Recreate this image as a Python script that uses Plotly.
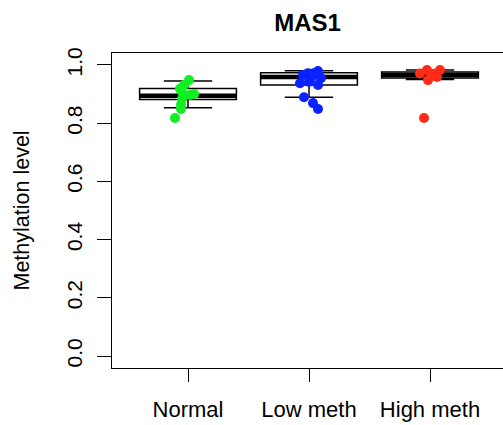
import plotly.graph_objects as go

categories = ["Normal", "Low meth", "High meth"]
positions = [1, 2, 3]
colors = ["#11EE22", "#0A22FF", "#FF2A18"]

q1 = [0.881, 0.931, 0.955]
median = [0.894, 0.959, 0.966]
q3 = [0.919, 0.973, 0.976]
lower_whisker = [0.853, 0.889, 0.950]
upper_whisker = [0.945, 0.980, 0.983]

normal_vals = [0.948, 0.931, 0.918, 0.900, 0.897, 0.900, 0.883, 0.863, 0.849, 0.818]
normal_jitter = [1, -4, -8, -5, 2, 6, -6, -7, -7, -13]
low_vals = [0.937, 0.966, 0.972, 0.955, 0.979, 0.955, 0.931, 0.972, 0.942, 0.889, 0.869, 0.849]
low_jitter = [-9, -6, -1, 2, 9, 12, 9, 5, 0, -5, 4, 9]
high_vals = [0.971, 0.983, 0.948, 0.971, 0.983, 0.959, 0.966, 0.818]
high_jitter = [-10, -3, -2, 5, 10, 7, 2, -6]

point_vals = [normal_vals, low_vals, high_vals]
point_jitter = [normal_jitter, low_jitter, high_jitter]

yticks = [0.0, 0.2, 0.4, 0.6, 0.8, 1.0]
title = "MAS1"
ytitle = "Methylation level"

FONT = "Liberation Sans, Arial, Helvetica, sans-serif"
W, H = 503, 425
L, R, T, B = 112, 0, 53, 57
PX_PER_UNIT = 121.0
BOXW = 0.8

fig = go.Figure()
for i, p in enumerate(positions):
    fig.add_trace(go.Box(
        x=[p], q1=[q1[i]], median=[median[i]], q3=[q3[i]],
        lowerfence=[lower_whisker[i]], upperfence=[upper_whisker[i]],
        width=BOXW, whiskerwidth=0.5, boxpoints=False,
        fillcolor="white", line=dict(color="black", width=1.5),
        showlegend=False, hoverinfo="skip"))
    fig.add_trace(go.Scatter(
        x=[p - BOXW / 2, p + BOXW / 2], y=[median[i], median[i]],
        mode="lines", line=dict(color="black", width=4.5),
        showlegend=False, hoverinfo="skip"))

for i, p in enumerate(positions):
    xs = [p + j / PX_PER_UNIT for j in point_jitter[i]]
    fig.add_trace(go.Scatter(
        x=xs, y=point_vals[i], mode="markers",
        marker=dict(color=colors[i], size=10, line=dict(width=0)),
        showlegend=False, hoverinfo="skip"))

xr = [1 - 76 / PX_PER_UNIT, 3 + 73 / PX_PER_UNIT]
fig.update_layout(
    width=W, height=H,
    margin=dict(l=L, r=R, t=T, b=B, pad=0),
    paper_bgcolor="white", plot_bgcolor="white",
    font=dict(family=FONT, size=21, color="black"),
    title=dict(text="<b>" + title + "</b>", x=(L + (W - L) / 2) / W, xanchor="center",
               y=1 - 23 / H, yanchor="middle", yref="container",
               font=dict(size=24, family=FONT, color="black")),
    xaxis=dict(range=xr, tickvals=positions, ticktext=categories,
               showgrid=False, zeroline=False, showline=True, mirror=True,
               linecolor="black", linewidth=1.3,
               ticks="outside", ticklen=13, tickwidth=1.3, tickcolor="black",
               tickfont=dict(size=22, family=FONT, color="black"),
               ticklabelstandoff=8),
    yaxis=dict(range=[-0.0412, 1.0412], tickvals=yticks,
               ticktext=[f"{v:.1f}" for v in yticks],
               showgrid=False, zeroline=False, showline=True, mirror=False,
               linecolor="black", linewidth=1.3,
               ticks="outside", ticklen=14, tickwidth=1.3, tickcolor="black",
               tickangle=-90,
               tickfont=dict(size=21, family=FONT, color="black"),
               ticklabelstandoff=6),
    annotations=[dict(text=ytitle, xref="paper", yref="paper",
                      x=(21 - L) / (W - L), y=0.5, xanchor="center", yanchor="middle",
                      textangle=-90, showarrow=False,
                      font=dict(size=21.5, family=FONT, color="black"))],
)

fig.write_html("out.html")
